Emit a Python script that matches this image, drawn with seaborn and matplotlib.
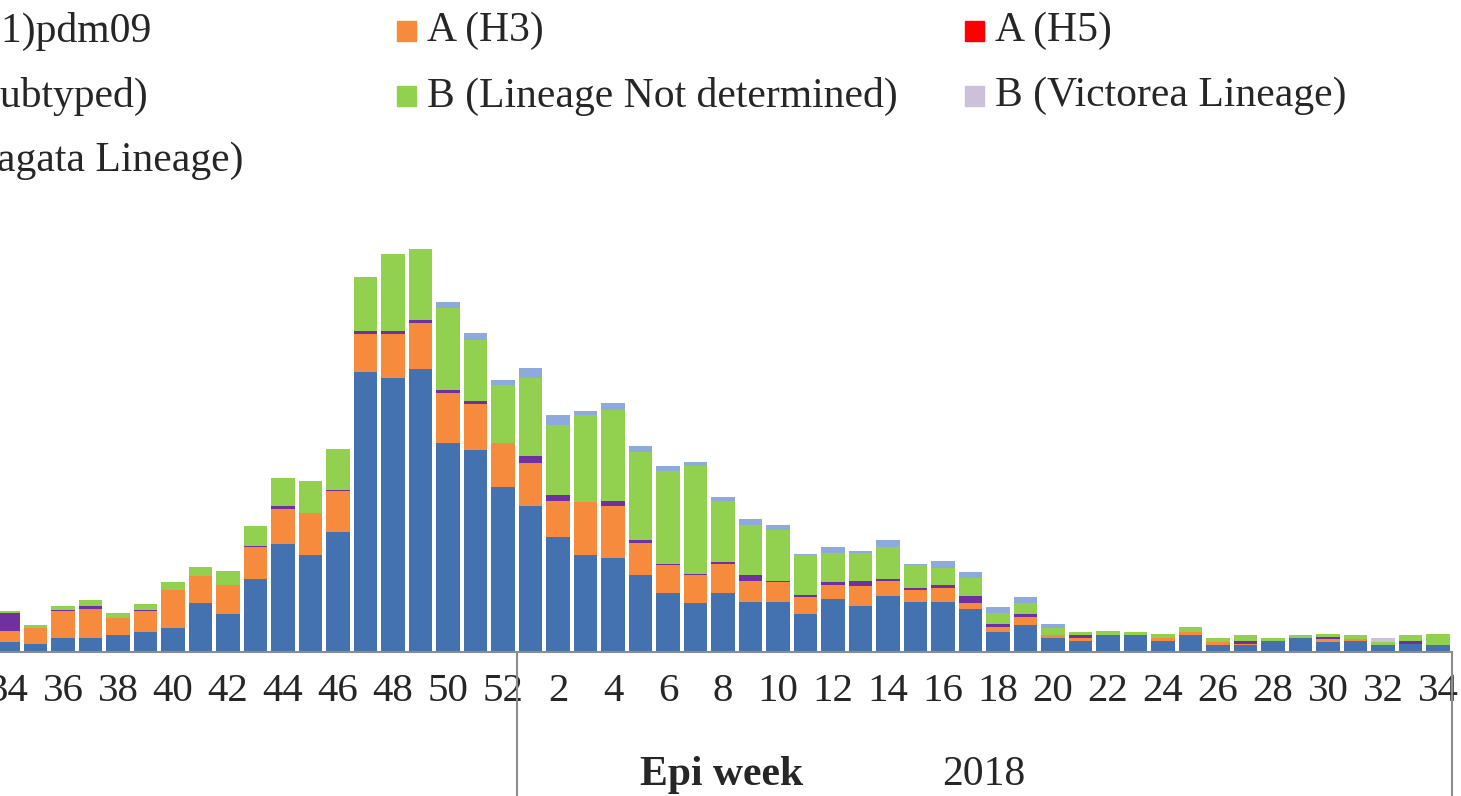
import numpy as np
import pandas as pd
import matplotlib.pyplot as plt
import matplotlib.transforms as mtransforms
from matplotlib.patches import Rectangle
import seaborn as sns

# Epi weeks shown: week 34 of 2017 up to week 34 of 2018
weeks = list(range(34, 53)) + list(range(1, 35))

# Positive specimens per week
h1n1 = [7, 6, 10, 10, 12, 14, 17, 35, 27, 52, 77, 69, 86, 200, 196, 202, 149, 144, 118,
        104, 82, 69, 67, 55, 42, 35, 42, 36, 36, 27, 38, 33, 40, 36, 36, 31, 14, 19, 10,
        8, 12, 12, 8, 12, 5, 5, 8, 10, 7, 8, 5, 6, 5]
h3 = [8, 11, 19, 21, 12, 15, 27, 19, 21, 23, 25, 30, 29, 27, 31, 33, 36, 33, 31,
      31, 26, 38, 37, 23, 20, 20, 21, 15, 14, 12, 10, 14, 11, 8, 10, 4, 4, 6, 2,
      2, 0, 0, 2, 2, 2, 1, 0, 0, 2, 1, 0, 0, 0]
h5 = [0] * 53
not_subtyped = [13, 0, 1, 2, 0, 1, 0, 0, 0, 1, 2, 0, 1, 2, 2, 2, 2, 2, 0,
                5, 4, 0, 4, 2, 1, 1, 1, 4, 1, 2, 2, 4, 1, 2, 2, 5, 2, 2, 0,
                2, 0, 0, 0, 0, 0, 2, 0, 0, 2, 0, 0, 2, 0]
b_not_determined = [1, 2, 3, 4, 4, 4, 6, 7, 10, 14, 20, 23, 29, 39, 55, 51, 59, 44, 42,
                    56, 50, 62, 65, 63, 66, 77, 44, 36, 36, 28, 21, 20, 23, 16, 12, 13, 8, 8, 5,
                    2, 3, 2, 3, 4, 3, 4, 2, 2, 2, 3, 2, 4, 8]
b_victoria = [0] * 19 + [0] * 31 + [3, 0, 0]
b_yamagata = [0, 0, 0, 0, 0, 0, 0, 0, 0, 0, 0, 0, 0, 0, 0, 0, 4, 5, 3,
              7, 7, 3, 5, 4, 4, 3, 3, 4, 4, 1, 4, 1, 5, 1, 5, 4, 4, 4, 3,
              0, 0, 0, 0, 0, 0, 0, 0, 0, 0, 0, 0, 0, 0]

series_names = ["A (H1N1)pdm09", "A (H3)", "A (H5)", "A (not subtyped)",
                "B (Lineage Not determined)", "B (Victorea Lineage)", "B (Yamagata Lineage)"]
series_values = [h1n1, h3, h5, not_subtyped, b_not_determined, b_victoria, b_yamagata]
series_colors = ["#4472B0", "#F68B3D", "#FF0000", "#7030A0", "#92D050", "#CCC0DA", "#8EA9DB"]

sns.set_style("white")
plt.rcParams["font.family"] = ["Liberation Serif", "DejaVu Serif"]

W, H = 1461, 796
fig = plt.figure(figsize=(W / 100, H / 100), dpi=100)
fig.patch.set_facecolor("white")

# axes extend past the left edge (the picture is a crop of a wider chart)
x0, x1 = -6, 52.5
px_left = 8 + 27.5 * x0
px_right = 8 + 27.5 * x1
ax = fig.add_axes([px_left / W, 144 / H, (px_right - px_left) / W, 420 / H])

pos = np.arange(len(weeks))
bottom = np.zeros(len(weeks))
for name, vals, col in zip(series_names, series_values, series_colors):
    vals = np.array(vals, dtype=float)
    sns.barplot(x=pos, y=vals, bottom=bottom, color=col, width=0.84, saturation=1,
                errorbar=None, linewidth=0, ax=ax)
    bottom = bottom + vals

ax.set_xlim(x0, x1)
ax.set_ylim(0, 300)
ax.set_yticks([])
ax.set_ylabel("")
ax.set_xlabel("")

tick_pos = [i for i, w in enumerate(weeks) if w % 2 == 0]
ax.set_xticks(tick_pos)
ax.set_xticklabels([str(weeks[i]) for i in tick_pos], fontsize=29.5)
ax.tick_params(axis="x", length=0, pad=15)

for s in ["top", "right", "left"]:
    ax.spines[s].set_visible(False)
ax.spines["bottom"].set_color("#8C8C8C")
ax.spines["bottom"].set_linewidth(1.5)

# year group separators below the axis
trans = mtransforms.blended_transform_factory(ax.transData, ax.transAxes)
for xb in [18.5, 52.5]:
    ax.plot([xb, xb], [0, -0.5], transform=trans, color="#8C8C8C", lw=1.5, clip_on=False)

fig.text(722 / W, 1 - 775 / H, "Epi week", fontsize=30, fontweight="bold", ha="center", va="center")
fig.text(984 / W, 1 - 775 / H, "2018", fontsize=30, ha="center", va="center")

# legend, three columns, row-major
col_x = [-132, 427, 995]
row_y = [31, 96, 161]
for k, (name, col) in enumerate(zip(series_names, series_colors)):
    r, c = divmod(k, 3)
    tx, ty = col_x[c], row_y[r]
    fig.patches.append(Rectangle(((tx - 30) / W, 1 - (ty + 9.5) / H), 19 / W, 19 / H,
                                 transform=fig.transFigure, color=col))
    fig.text(tx / W, 1 - ty / H, name, fontsize=30, ha="left", va="center")

plt.savefig("out.png", dpi=100)
